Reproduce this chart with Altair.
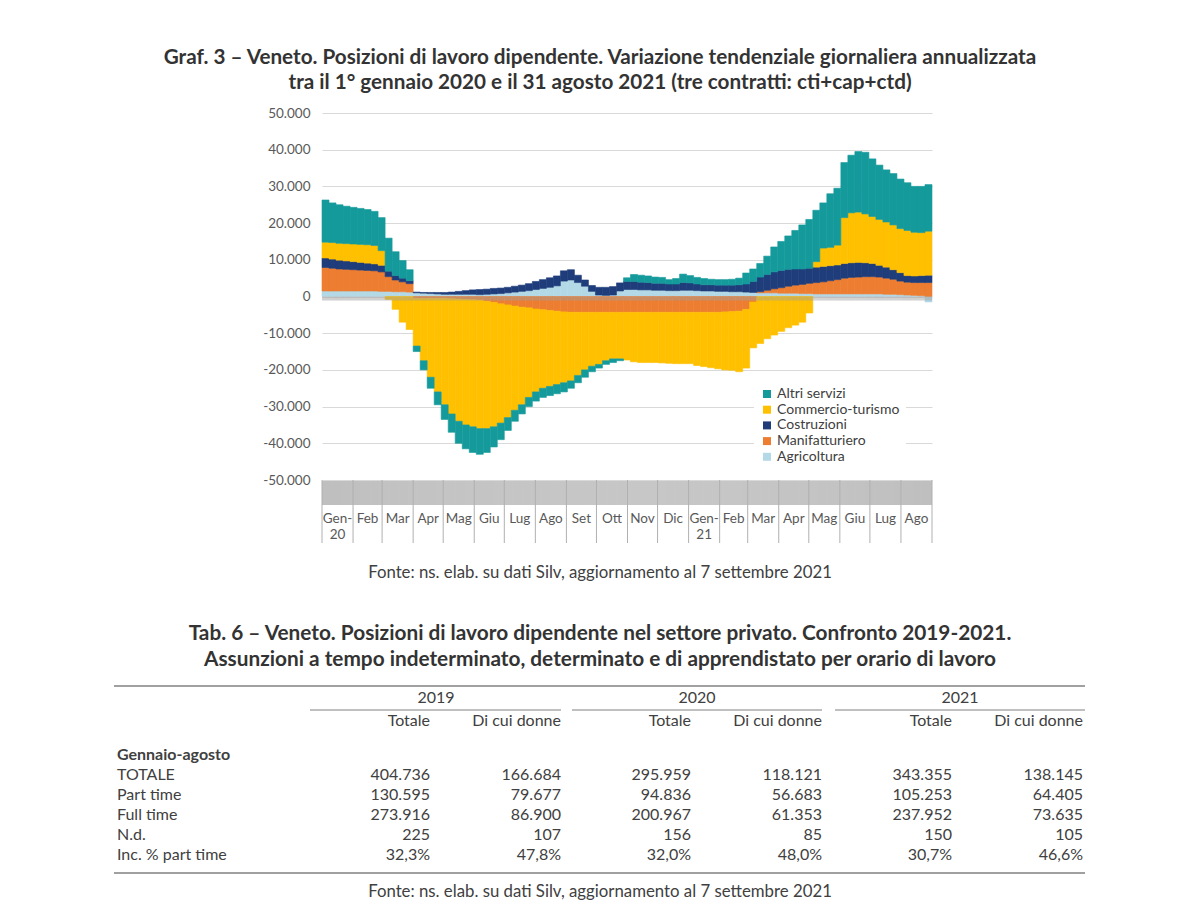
import altair as alt
import pandas as pd

# ---------------- data ----------------
sectors = ["Agricoltura", "Manifatturiero", "Costruzioni", "Commercio-turismo", "Altri servizi"]
legend_order = ["Altri servizi", "Commercio-turismo", "Costruzioni", "Manifatturiero", "Agricoltura"]
sector_colors = ["#159A9C", "#FFC000", "#1F3D7A", "#ED7D31", "#B4D9E6"]

# weekly values (week starting 1 Jan 2020, last week ends 31 Aug 2021)
agricoltura = [1500, 1500, 1500, 1500, 1500, 1500, 1500, 1500, 1400, 1400, 1300, 1300, 1200,
               1000, 900, 800, 700, 600, 600, 600, 600, 600,
               500, 600, 700, 800, 1000, 1200, 1400, 1600,
               1900, 2200, 2500, 2900, 4200, 4500, 3800, 2800, 1400, 400,
               300, 400, 1500, 1900, 1900, 1800, 1800, 1700, 1700, 1600,
               1600, 1700, 1700, 1600, 1500, 1500, 1400, 1400, 1300, 1300,
               1200, 1100, 1000, 1000, 1000, 900, 900, 900, 800, 800,
               700, 700, 700, 700, 700, 700, 700, 700, 700, 700,
               600, 600, 500, 400, 300, 200, -1500]
manifatturiero = [6400, 6200, 6000, 5900, 5800, 5700, 5600, 5500, 5300, 4000, 3200, 2700, 2300,
                  -500, -500, -500, -500, -500, -600, -700, -800, -900,
                  -1000, -1300, -1600, -2000, -2300, -2600, -2900, -3100,
                  -3400, -3600, -3800, -4000, -4200, -4300, -4300, -4300, -4300, -4300,
                  -4300, -4300, -4300, -4300, -4300, -4300, -4300, -4300, -4300, -4300,
                  -4300, -4300, -4300, -4300, -4300, -4300, -4300, -4200, -4100, -4000,
                  -3500, -1500, 300, 700, 1100, 1500, 1900, 2200, 2500, 2800,
                  3100, 3300, 3600, 3900, 4300, 4500, 4600, 4700, 4700, 4600,
                  4400, 4100, 3700, 3500, 3500, 3600, 3800]
costruzioni = [2600, 2500, 2400, 2300, 2200, 2100, 2000, 1900, 1800, 1500, 1200, 1000, 800,
               200, 200, 300, 400, 500, 600, 800, 1000, 1200,
               1400, 1400, 1500, 1500, 1500, 1600, 1700, 1900,
               2200, 2400, 2600, 2700, 2800, 2800, 2000, 1700, 1600, 2100,
               2200, 2300, 2200, 2200, 2200, 2100, 2000, 1900, 1900, 1800,
               1800, 2100, 2000, 1800, 1700, 1700, 1700, 1700, 1800, 1900,
               2200, 3000, 4000, 4300, 4600, 4700, 4600, 4400, 4200, 4100,
               4200, 4200, 4100, 4000, 4000, 4000, 4000, 3800, 3600, 3200,
               3000, 2600, 2300, 1800, 1800, 1900, 2000]
commercio = [4300, 4500, 4600, 4700, 4800, 4900, 5000, 5000, 4000, -800, -3500, -7000, -9000,
             -13000, -17000, -21500, -25500, -29000, -31400, -33300, -34200, -34600,
             -35000, -34700, -33900, -32500, -30700, -28400, -26600, -24400,
             -22600, -21400, -20700, -20000, -19300, -18700, -17200, -15700, -14700, -14200,
             -13200, -12700, -12700, -13000, -13500, -13700, -13700, -13700, -13800, -13900,
             -14000, -14000, -14000, -14500, -14800, -15100, -15400, -15800, -16000, -16500,
             -16000, -12500, -12800, -11500, -10500, -9500, -8500, -7800, -7000, -4500,
             1500, 5000, 5000, 5400, 12500, 13600, 13700, 13300, 12800, 12500,
             12300, 12200, 12000, 12300, 11900, 11700, 12000]
altri_servizi = [11500, 10800, 10500, 10200, 10000, 9800, 9600, 9300, 9000, 9000, 6500, 4800, 3000,
                 -1500, -2500, -3000, -3500, -4000, -5000, -6000, -6500, -7000,
                 -7000, -6500, -5500, -4500, -3500, -3000, -2500, -2500,
                 -2500, -2500, -2500, -2500, -2500, -2000, -2000, -2000, -1500, -1000,
                 -1000, -1000, -500, 1000, 1900, 1900, 1800, 1700, 1600, 1200,
                 1500, 2300, 2000, 1800, 1700, 1500, 1500, 1500, 1600, 1800,
                 3000, 3400, 3700, 5000, 6800, 7900, 9100, 10500, 12000, 13300,
                 14000, 12300, 14600, 15500, 15000, 15700, 16500, 16800, 15700, 14800,
                 14200, 14000, 13500, 13000, 12500, 12600, 12700]

y_ticks = [-50000, -40000, -30000, -20000, -10000, 0, 10000, 20000, 30000, 40000, 50000]
month_labels = ["Gen-\n20", "Feb", "Mar", "Apr", "Mag", "Giu", "Lug", "Ago", "Set", "Ott", "Nov", "Dic",
                "Gen-\n21", "Feb", "Mar", "Apr", "Mag", "Giu", "Lug", "Ago"]

chart_title = ["Graf. 3 \u2013 Veneto. Posizioni di lavoro dipendente. Variazione tendenziale giornaliera annualizzata",
               "tra il 1\u00b0 gennaio 2020 e il 31 agosto 2021 (tre contratti: cti+cap+ctd)"]
source_text = "Fonte: ns. elab. su dati Silv, aggiornamento al 7 settembre 2021"
table_title = ["Tab. 6 \u2013 Veneto. Posizioni di lavoro dipendente nel settore privato. Confronto 2019-2021.",
               "Assunzioni a tempo indeterminato, determinato e di apprendistato per orario di lavoro"]
table_years = ["2019", "2020", "2021"]
table_cols = ["Totale", "Di cui donne"]
table_group = "Gennaio-agosto"
table_rows = ["TOTALE", "Part time", "Full time", "N.d.", "Inc. % part time"]
totale_2019 = [404736, 130595, 273916, 225]
donne_2019 = [166684, 79677, 86900, 107]
totale_2020 = [295959, 94836, 200967, 156]
donne_2020 = [118121, 56683, 61353, 85]
totale_2021 = [343355, 105253, 237952, 150]
donne_2021 = [138145, 64405, 73635, 105]
pct_totale = [32.3, 32.0, 30.7]
pct_donne = [47.8, 48.0, 46.6]

# ---------------- build tables ----------------
week_starts = pd.date_range("2020-01-01", periods=len(agricoltura), freq="7D")
period_end = pd.Timestamp("2021-09-01")
series = {"Agricoltura": agricoltura, "Manifatturiero": manifatturiero, "Costruzioni": costruzioni,
          "Commercio-turismo": commercio, "Altri servizi": altri_servizi}
rows = []
for k, name in enumerate(sectors):
    for i, s in enumerate(week_starts):
        e = min(s + pd.Timedelta(days=7), period_end)
        rows.append({"date": s, "end": e, "sector": name, "value": series[name][i], "ord": k})
bars_df = pd.DataFrame(rows)

days = pd.date_range("2020-01-01", "2021-08-31", freq="D")
days_df = pd.DataFrame({"date": days + pd.Timedelta(hours=12)})
month_starts = pd.date_range("2020-01-01", "2021-09-01", freq="MS")
sep_df = pd.DataFrame({"date": month_starts})
mids = [month_starts[i] + (month_starts[i + 1] - month_starts[i]) / 2 for i in range(len(month_starts) - 1)]
mlab_df = pd.DataFrame({"date": mids, "label": month_labels})

x_dom = [alt.DateTime(year=2020, month=1, date=1), alt.DateTime(year=2021, month=9, date=1)]
xs = alt.Scale(domain=x_dom)
ys = alt.Scale(domain=[-50000, 50000], nice=False, zero=False)

FONT = "Lato"
TXT = "#404040"

label_expr = ("datum.value == 0 ? '0' : (datum.value < 0 ? '-' : '') + "
              "replace(format(abs(datum.value), ','), ',', '.')")

color_scale = alt.Scale(domain=legend_order, range=sector_colors)

bars = alt.Chart(bars_df).transform_stack(
    stack="value", as_=["v0", "v1"], groupby=["date"],
    sort=[alt.SortField("ord", order="ascending")], offset="zero",
).mark_bar(strokeWidth=0.6).encode(
    x=alt.X("date:T", scale=xs, axis=None),
    x2="end:T",
    y=alt.Y("v0:Q", scale=ys,
            axis=alt.Axis(values=y_ticks, tickCount=len(y_ticks), grid=True, gridColor="#D9D9D9",
                          gridWidth=1, ticks=False, domain=False, labelExpr=label_expr,
                          labelOverlap=False, labelFont=FONT, labelFontSize=13.5,
                          labelColor="#595959", labelPadding=12, title=None)),
    y2="v1:Q",
    color=alt.Color("sector:N", scale=color_scale,
                    legend=alt.Legend(orient="none", legendX=432, legendY=268, title=None,
                                      fillColor="white", padding=6, symbolType="square",
                                      symbolSize=64, symbolStrokeWidth=0, labelFont=FONT,
                                      labelFontSize=14, labelColor=TXT, rowPadding=1.7,
                                      labelOffset=3)),
    stroke=alt.Stroke("sector:N", scale=color_scale, legend=None),
)

zero_ticks = alt.Chart(days_df).mark_rule(color="#a0a0a0", strokeWidth=0.5).encode(
    x=alt.X("date:T", scale=xs, axis=None),
    y=alt.YDatum(0),
    y2=alt.Y2Datum(-1100),
)

H = 367
band = alt.Chart(days_df).mark_rule(color="#7f7f7f", strokeWidth=0.5).encode(
    x=alt.X("date:T", scale=xs, axis=None),
    y=alt.value(H + 1),
    y2=alt.value(H + 25),
)
seps = alt.Chart(sep_df).mark_rule(color="#b0b0b0", strokeWidth=1).encode(
    x=alt.X("date:T", scale=xs, axis=None),
    y=alt.value(H),
    y2=alt.value(H + 63),
)
mlabels = alt.Chart(mlab_df).mark_text(font=FONT, fontSize=13.5, color="#595959", align="center",
                                       baseline="top", lineBreak="\n", lineHeight=16).encode(
    x=alt.X("date:T", scale=xs, axis=None),
    y=alt.value(H + 32),
    text="label:N",
)

# ---------- text / table layers (pixel layout relative to plot origin) ----------
OX, OY = 322, 113  # plot origin on the page


def px(x):
    return x - OX


def py(y):
    return y - OY


title_df = pd.DataFrame({"t": chart_title, "px": [px(600)] * 2, "py": [py(58), py(83)]})
ttitle_df = pd.DataFrame({"t": table_title, "px": [px(600)] * 2, "py": [py(634), py(660)]})
source_df = pd.DataFrame({"t": [source_text, source_text], "px": [px(600), px(600)],
                          "py": [py(573), py(892)]})
years_df = pd.DataFrame({"t": table_years, "px": [px(436), px(697), px(960)], "py": [py(698)] * 3})
col_right = [430, 561, 691, 822, 952, 1083]
right_t, right_x, right_y = [], [], []
row_y = [775, 795, 815, 835, 855]
per_year = [(totale_2019, donne_2019), (totale_2020, donne_2020), (totale_2021, donne_2021)]
for yi, (tot, don) in enumerate(per_year):
    for ci, col in enumerate(table_cols):
        right_t.append(col)
        right_x.append(px(col_right[2 * yi + ci]))
        right_y.append(py(721))
    for ri in range(4):
        for ci, v in enumerate([tot[ri], don[ri]]):
            right_t.append(f"{v:,}".replace(",", "."))
            right_x.append(px(col_right[2 * yi + ci]))
            right_y.append(py(row_y[ri]))
    for ci, v in enumerate([pct_totale[yi], pct_donne[yi]]):
        right_t.append(f"{v:.1f}%".replace(".", ","))
        right_x.append(px(col_right[2 * yi + ci]))
        right_y.append(py(row_y[4]))
right_df = pd.DataFrame({"t": right_t, "px": right_x, "py": right_y})
left_df = pd.DataFrame({"t": table_rows, "px": [px(117)] * 5, "py": [py(v) for v in row_y]})
left_bold = pd.DataFrame({"t": [table_group], "px": [px(117)], "py": [py(755)]})


def text_layer(df, align, weight, size, color=TXT):
    return alt.Chart(df).mark_text(align=align, baseline="middle", font=FONT, fontSize=size,
                                   fontWeight=weight, color=color).encode(
        x=alt.X("px:Q", scale=None, axis=None),
        y=alt.Y("py:Q", scale=None, axis=None),
        text="t:N",
    )


def hline(x1, x2, y, w=1, c="#808080"):
    return alt.Chart(pd.DataFrame({"k": [0]})).mark_rule(color=c, strokeWidth=w).encode(
        x=alt.value(px(x1)), x2=alt.value(px(x2)), y=alt.value(py(y)))


layers = [
    bars, zero_ticks, band, seps, mlabels,
    text_layer(title_df, "center", "bold", 20.7, "#333333"),
    text_layer(ttitle_df, "center", "bold", 20.8, "#333333"),
    text_layer(source_df, "center", "normal", 16.8),
    text_layer(years_df, "center", "normal", 16),
    text_layer(right_df, "right", "normal", 16),
    text_layer(left_df, "left", "normal", 16),
    text_layer(left_bold, "left", "bold", 16),
    hline(114, 1085, 686, 1.5),
    hline(310, 561, 710),
    hline(572, 822, 710),
    hline(835, 1085, 710),
    hline(114, 1085, 873, 1.5),
]

chart = alt.layer(*layers).properties(
    width=610, height=H,
    autosize=alt.AutoSizeParams(type="none"),
    padding={"left": OX - 8, "top": OY - 8, "right": 1200 - 16 - (OX - 8) - 610, "bottom": 900 - 8 - (OY - 8) - H},
    background="white",
).configure_view(stroke=None)

chart.save("out.html", embed_options={"renderer": "svg", "actions": False})
